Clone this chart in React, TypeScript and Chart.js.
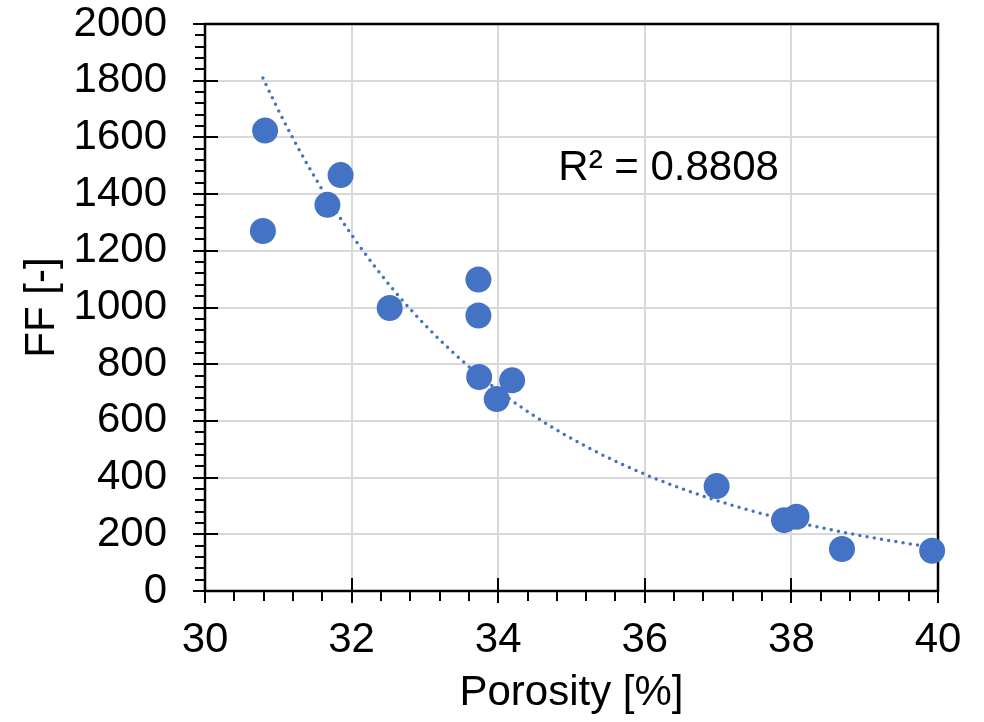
import React, { useEffect, useRef } from "react";
import { Chart, registerables } from "chart.js";

Chart.register(...registerables);

// ---- data ----
const porosity = [30.82, 30.79, 31.85, 31.67, 32.52, 33.73, 33.73, 33.74, 34.19, 33.98, 36.98, 37.9, 38.07, 38.69, 39.92];
const formationFactor = [1624, 1270, 1467, 1362, 998, 1099, 972, 755, 743, 677, 370, 250, 262, 148, 142];

const xTickValues = [30, 32, 34, 36, 38, 40];
const yTickValues = [0, 200, 400, 600, 800, 1000, 1200, 1400, 1600, 1800, 2000];
const xMinorStep = 0.4;
const yMinorStep = 40;

const xTitle = "Porosity [%]";
const yTitle = "FF [-]";
const r2Label = "R² = 0.8808";
const r2Anchor = { x: 34.82, y: 1492 };

const BLUE = "#4472C4";
const FONT = "'Liberation Sans', Arial, sans-serif";
const FS = 42;

// Power-law trendline fitted to the data (least squares on logs, as Excel does)
function powerFit(xs: number[], ys: number[]) {
  const n = xs.length;
  const lx = xs.map(Math.log);
  const ly = ys.map(Math.log);
  const mx = lx.reduce((a, b) => a + b, 0) / n;
  const my = ly.reduce((a, b) => a + b, 0) / n;
  let sxy = 0, sxx = 0;
  for (let i = 0; i < n; i++) {
    sxy += (lx[i] - mx) * (ly[i] - my);
    sxx += (lx[i] - mx) ** 2;
  }
  const b = sxy / sxx;
  const a = Math.exp(my - b * mx);
  return { a, b };
}

function trendPoints() {
  const { a, b } = powerFit(porosity, formationFactor);
  const xmin = Math.min(...porosity);
  const xmax = Math.max(...porosity);
  const pts: { x: number; y: number }[] = [];
  const n = 80;
  for (let i = 0; i <= n; i++) {
    const x = xmin + ((xmax - xmin) * i) / n;
    pts.push({ x, y: a * Math.pow(x, b) });
  }
  return pts;
}

function range(min: number, max: number, step: number) {
  const out: number[] = [];
  for (let v = min; v <= max + 1e-9; v += step) out.push(Math.round(v * 1000) / 1000);
  return out;
}

const noPad = (s: any) => {
  s.paddingTop = 0;
  s.paddingBottom = 0;
  s.paddingLeft = 0;
  s.paddingRight = 0;
};

const framePlugin = {
  id: "frame",
  beforeDatasetsDraw(chart: any) {
    const { ctx, chartArea, scales } = chart;
    const { left, right, top, bottom } = chartArea;
    const xs = scales.x;
    const ys = scales.y;
    const majX = new Set(xTickValues);
    const majY = new Set(yTickValues);
    ctx.save();
    ctx.strokeStyle = "#000";
    ctx.lineCap = "butt";
    const line = (x1: number, y1: number, x2: number, y2: number) => {
      ctx.beginPath();
      ctx.moveTo(x1, y1);
      ctx.lineTo(x2, y2);
      ctx.stroke();
    };
    ctx.lineWidth = 2;
    for (const v of range(xTickValues[0], xTickValues[xTickValues.length - 1], xMinorStep)) {
      const px = Math.round(xs.getPixelForValue(v));
      if (majX.has(v)) line(px, bottom - 13, px, bottom + 12);
      else line(px, bottom, px, bottom + 10);
    }
    for (const v of range(yTickValues[0], yTickValues[yTickValues.length - 1], yMinorStep)) {
      const py = Math.round(ys.getPixelForValue(v));
      if (majY.has(v)) line(left - 12, py, left + 13, py);
      else line(left - 10, py, left, py);
    }
    ctx.lineWidth = 2.5;
    ctx.strokeRect(left, top, right - left, bottom - top);
    ctx.restore();
  },
  afterDatasetsDraw(chart: any) {
    const { ctx, scales } = chart;
    ctx.save();
    ctx.fillStyle = "#000";
    ctx.font = `${FS}px ${FONT}`;
    ctx.textAlign = "left";
    ctx.textBaseline = "middle";
    ctx.fillText(r2Label, scales.x.getPixelForValue(r2Anchor.x), scales.y.getPixelForValue(r2Anchor.y));
    ctx.restore();
  },
};

export default function App() {
  const ref = useRef<HTMLCanvasElement | null>(null);
  useEffect(() => {
    if (!ref.current) return;
    const chart = new Chart(ref.current, {
      type: "scatter",
      data: {
        datasets: [
          {
            label: "FF",
            data: porosity.map((x, i) => ({ x, y: formationFactor[i] })),
            backgroundColor: BLUE,
            borderColor: BLUE,
            borderWidth: 0,
            pointRadius: 13,
            pointHoverRadius: 13,
            clip: false as any,
          },
          {
            type: "line" as any,
            label: "trend",
            data: trendPoints(),
            borderColor: BLUE,
            borderWidth: 3.5,
            borderDash: [0, 7.3],
            borderCapStyle: "round",
            pointRadius: 0,
            fill: false,
            tension: 0,
            showLine: true,
            clip: false as any,
          },
        ],
      },
      options: {
        animation: false,
        responsive: false,
        devicePixelRatio: 1,
        events: [],
        layout: { padding: { top: 24, right: 46, left: 0, bottom: 0 } },
        plugins: { legend: { display: false }, tooltip: { enabled: false } },
        scales: {
          x: {
            type: "linear",
            min: 30,
            max: 40,
            afterBuildTicks: (s: any) => {
              s.ticks = xTickValues.map((v) => ({ value: v }));
            },
            afterFit: (s: any) => {
              s.height = 131;
              noPad(s);
            },
            grid: { color: "#d9d9d9", lineWidth: 2, drawTicks: false },
            border: { display: false },
            ticks: {
              color: "#000",
              padding: 28,
              font: { family: FONT, size: FS, lineHeight: 1 },
              maxRotation: 0,
              autoSkip: false,
              callback: (v: any) => String(v),
            },
            title: {
              display: true,
              text: xTitle,
              color: "#000",
              font: { family: FONT, size: FS, lineHeight: 1 },
              padding: { top: 0, bottom: 8 },
            },
          },
          y: {
            type: "linear",
            min: 0,
            max: 2000,
            afterBuildTicks: (s: any) => {
              s.ticks = yTickValues.map((v) => ({ value: v }));
            },
            afterFit: (s: any) => {
              s.width = 205;
              noPad(s);
            },
            grid: { color: "#d9d9d9", lineWidth: 2, drawTicks: false },
            border: { display: false },
            ticks: {
              color: "#000",
              padding: 38,
              font: { family: FONT, size: FS, lineHeight: 1 },
              autoSkip: false,
              callback: (v: any) => String(v),
            },
            title: {
              display: true,
              text: yTitle,
              color: "#000",
              font: { family: FONT, size: FS, lineHeight: 1 },
              padding: { top: 21, bottom: 0 },
            },
          },
        },
      },
      plugins: [framePlugin],
    } as any);
    return () => chart.destroy();
  }, []);
  return (
    <div style={{ position: "fixed", left: 0, top: 0, width: 984, height: 722, background: "#fff" }}>
      <canvas ref={ref} width={984} height={722} style={{ display: "block", width: 984, height: 722 }} />
    </div>
  );
}
